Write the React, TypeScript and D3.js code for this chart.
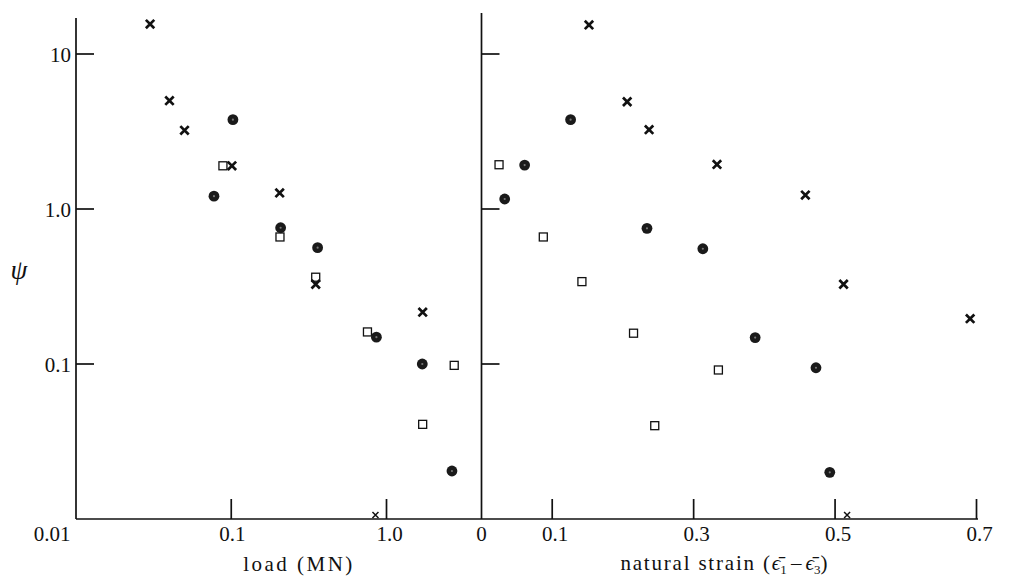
import React from "react";
import * as d3 from "d3";

// psi vs load (MN), log-log
const loadCross: [number, number][] = [
  [0.03, 15.6], [0.04, 5.0], [0.05, 3.22], [0.101, 1.9], [0.205, 1.27], [0.35, 0.327], [1.71, 0.216],
];
const loadCircle: [number, number][] = [
  [0.1025, 3.77], [0.0774, 1.21], [0.208, 0.757], [0.36, 0.563], [0.861, 0.149], [1.7, 0.1], [2.64, 0.0204],
];
const loadSquare: [number, number][] = [
  [0.0884, 1.9], [0.206, 0.66], [0.35, 0.363], [0.754, 0.161], [2.73, 0.098], [1.71, 0.0408],
];
const loadLow: [number, number][] = [[0.849, 0.0106]];

// psi vs natural strain
const strainCross: [number, number][] = [
  [0.152, 15.4], [0.206, 4.92], [0.237, 3.25], [0.333, 1.94], [0.458, 1.23], [0.512, 0.327], [0.691, 0.196],
];
const strainCircle: [number, number][] = [
  [0.126, 3.77], [0.061, 1.92], [0.0328, 1.16], [0.234, 0.75], [0.313, 0.554], [0.387, 0.148], [0.473, 0.0946], [0.4925, 0.02],
];
const strainSquare: [number, number][] = [
  [0.0248, 1.93], [0.0874, 0.66], [0.142, 0.34], [0.215, 0.158], [0.335, 0.0915], [0.245, 0.04],
];
const strainLow: [number, number][] = [[0.517, 0.0106]];

const psiTicks = [10, 1, 0.1];
const psiTickLabels = ["10", "1.0", "0.1"];
const loadTicks = [0.1, 1];
const loadTickLabels = ["0.01", "0.1", "1.0"];
const strainTicks = [0.1, 0.3, 0.5, 0.7];
const strainTickLabels = ["0", "0.1", "0.3", "0.5", "0.7"];

const W = 1021;
const H = 578;
const ink = "#111";
const txt: React.CSSProperties = { fontFamily: '"Liberation Serif"', fontSize: 21 };

const y = d3.scaleLog().domain([0.01, 10]).range([519, 54]);
const xLoad = d3.scaleLog().domain([0.01, 1]).range([76, 386.5]);
const xStrain = d3.scaleLinear().domain([0, 0.7]).range([481.5, 976.5]);

const Cross = ({ cx, cy, s = 4.2, w = 2.7 }: { cx: number; cy: number; s?: number; w?: number }) => (
  <path
    d={`M${cx - s},${cy - s}L${cx + s},${cy + s}M${cx + s},${cy - s}L${cx - s},${cy + s}`}
    stroke={ink}
    strokeWidth={w}
    fill="none"
  />
);

const Dot = ({ cx, cy }: { cx: number; cy: number }) => (
  <g>
    <circle cx={cx} cy={cy} r={5.4} fill="#1a1a1a" />
    <circle cx={cx} cy={cy} r={1.1} fill="#777" />
  </g>
);

const Square = ({ cx, cy }: { cx: number; cy: number }) => (
  <rect x={cx - 4} y={cy - 4} width={8} height={8} fill="white" stroke={ink} strokeWidth={1.3} />
);

const Marks = ({ x, cross, circle, square, low }: any) => (
  <g>
    {square.map((d: [number, number], i: number) => (
      <Square key={"s" + i} cx={x(d[0])} cy={y(d[1])} />
    ))}
    {circle.map((d: [number, number], i: number) => (
      <Dot key={"c" + i} cx={x(d[0])} cy={y(d[1])} />
    ))}
    {cross.map((d: [number, number], i: number) => (
      <Cross key={"x" + i} cx={x(d[0])} cy={y(d[1])} />
    ))}
    {low.map((d: [number, number], i: number) => (
      <Cross key={"l" + i} cx={x(d[0])} cy={y(d[1])} s={3} w={1.5} />
    ))}
  </g>
);

export default function App() {
  const x0 = xLoad.range()[0];
  const xMid = xStrain.range()[0];
  const xEnd = 978;
  const yBase = y(0.01);
  const labelY = 541;

  return (
    <svg width={W} height={H} style={{ position: "absolute", left: 0, top: 0, background: "white" }}>
      <g stroke={ink} strokeWidth={1.7} fill="none">
        {/* axes */}
        <line x1={x0} y1={18} x2={x0} y2={yBase} />
        <line x1={xMid} y1={13} x2={xMid} y2={yBase} />
        <line x1={x0} y1={yBase} x2={xEnd} y2={yBase} />
        {/* psi ticks, both panels */}
        {psiTicks.map((t) => (
          <g key={"pt" + t}>
            <line x1={x0} x2={x0 + 18} y1={y(t)} y2={y(t)} />
            <line x1={xMid} x2={xMid + 18} y1={y(t)} y2={y(t)} />
          </g>
        ))}
        {loadTicks.map((t) => (
          <line key={"lt" + t} x1={xLoad(t)} x2={xLoad(t)} y1={yBase} y2={yBase - 20} />
        ))}
        {strainTicks.map((t) => (
          <line key={"st" + t} x1={xStrain(t)} x2={xStrain(t)} y1={yBase} y2={yBase - 20} />
        ))}
      </g>

      <g fill={ink}>
        {psiTicks.map((t, i) => (
          <text key={"pl" + t} style={txt} x={71} y={y(t) + 8} textAnchor="end">
            {psiTickLabels[i]}
          </text>
        ))}
        {[0.01, ...loadTicks].map((t, i) => (
          <text key={"ll" + t} style={txt} x={i === 0 ? 52 : xLoad(t) + (i === 2 ? 3 : 1)} y={labelY} textAnchor="middle">
            {loadTickLabels[i]}
          </text>
        ))}
        {[0, ...strainTicks].map((t, i) => (
          <text key={"sl" + t} style={txt} x={xStrain(t) + (i === 0 ? 0 : 3)} y={labelY} textAnchor="middle">
            {strainTickLabels[i]}
          </text>
        ))}
        <text style={txt} x={299} y={571} textAnchor="middle" letterSpacing={2.5}>
          load (MN)
        </text>
        <text style={txt} x={724} y={570} textAnchor="middle">
          <tspan letterSpacing={1.8}>natural strain (</tspan>
          <tspan fontStyle="italic">{"\u03F5\u0304"}</tspan>
          <tspan fontSize={13} dy={4}>1</tspan>
          <tspan dy={-4}>{"\u2009\u2013\u2009"}</tspan>
          <tspan fontStyle="italic">{"\u03F5\u0304"}</tspan>
          <tspan fontSize={13} dy={4}>3</tspan>
          <tspan dy={-4}>)</tspan>
        </text>
        <text style={{ ...txt, fontSize: 27 }} x={19} y={279} textAnchor="middle" fontStyle="italic">
          ψ
        </text>
      </g>

      <Marks x={xLoad} cross={loadCross} circle={loadCircle} square={loadSquare} low={loadLow} />
      <Marks x={xStrain} cross={strainCross} circle={strainCircle} square={strainSquare} low={strainLow} />
    </svg>
  );
}
